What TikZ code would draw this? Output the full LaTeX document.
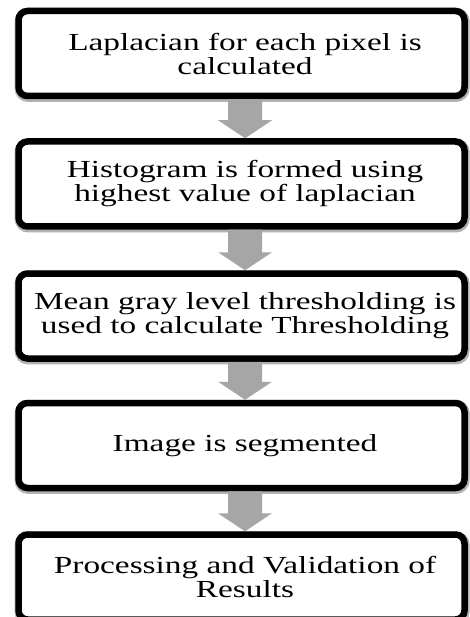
\documentclass[tikz,border=0pt]{standalone}
\usepackage{fontspec}
\setmainfont{Liberation Serif}[FakeStretch=1.36]
\usetikzlibrary{calc}
\definecolor{arrowgray}{RGB}{166,166,166}
\begin{document}
\begin{tikzpicture}[x=1pt,y=-1pt,
  stepbox/.style={draw=black, line width=6.5pt, rounded corners=9pt, fill=white,
    minimum width=446pt, minimum height=85pt, inner sep=0pt,
    preaction={draw=black!30, line width=9pt, transform canvas={xshift=0.6pt,yshift=-1.4pt}}},
  steptext/.style={align=center, inner sep=0pt, font=\fontsize{24.5}{24}\selectfont},
  flowarrow/.style={fill=arrowgray}]
\useasboundingbox (0,0) rectangle (470,617);
\fill[white] (0,0) rectangle (470,617);
\node[stepbox] (b1) at (241.5,53.5) {};
\node[stepbox] (b2) at (241.5,184) {};
\node[stepbox] (b3) at (241.5,316) {};
\node[stepbox] (b4) at (241.5,445.5) {};
\node[stepbox] (b5) at (241.5,577) {};
\node[steptext] (t1) at ($(b1.center)+(3.5,0)$) {Laplacian for each pixel is\\calculated};
\node[steptext] (t2) at ($(b2.center)+(3.5,0)$) {Histogram is formed using\\highest value of laplacian};
\node[steptext] (t3) at ($(b3.center)+(3.5,0)$) {Mean gray level thresholding is\\used to calculate Thresholding};
\node[steptext] (t4) at ($(b4.center)+(3.5,0)$) {Image is segmented};
\node[steptext] (t5) at ($(b5.center)+(3.5,0)$) {Processing and Validation of\\Results};
\foreach \a/\b in {b1/b2,b2/b3,b3/b4,b4/b5}{
  \path let \p1=(\a.south), \p2=(\b.north) in
    [flowarrow] (\x1+3.5pt-17pt,\y1) -- (\x1+3.5pt+17pt,\y1)
    -- (\x1+3.5pt+17pt,\y2+18pt) -- (\x1+3.5pt+27pt,\y2+18pt)
    -- (\x1+3.5pt,\y2) -- (\x1+3.5pt-27pt,\y2+18pt)
    -- (\x1+3.5pt-17pt,\y2+18pt) -- cycle;
}
\end{tikzpicture}
\end{document}
